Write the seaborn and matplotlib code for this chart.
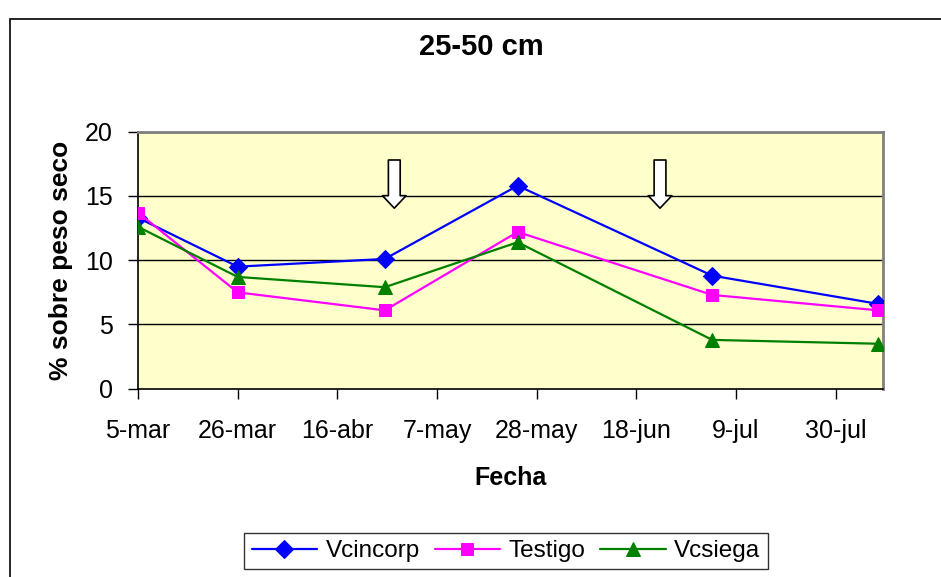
import matplotlib
matplotlib.use("Agg")
import matplotlib.pyplot as plt
from matplotlib.patches import Rectangle
import pandas as pd
import seaborn as sns

# Sampling dates and values
FECHAS = ["2005-03-05", "2005-03-26", "2005-04-26", "2005-05-24", "2005-07-04", "2005-08-08"]
VCINCORP = [13.3, 9.5, 10.1, 15.8, 8.8, 6.6]
TESTIGO = [13.7, 7.5, 6.1, 12.2, 7.3, 6.1]
VCSIEGA = [12.6, 8.7, 7.9, 11.4, 3.8, 3.5]

SERIES = ["Vcincorp", "Testigo", "Vcsiega"]
COLORS = ["#0000FF", "#FF00FF", "#008000"]
MARKERS = ["D", "s", "^"]
MSIZES = [9, 9, 10]

TICK_DATES = ["2005-03-05", "2005-03-26", "2005-04-16", "2005-05-07",
              "2005-05-28", "2005-06-18", "2005-07-09", "2005-07-30"]
TICK_LABELS = ["5-mar", "26-mar", "16-abr", "7-may", "28-may", "18-jun", "9-jul", "30-jul"]
Y_TICKS = [0, 5, 10, 15, 20]

# management events marked with hollow arrows
ARROW_DATES = ["2005-04-28", "2005-06-23"]
ARROW_TOP = 17.8
ARROW_TIP = 14.05

FONT = ["Liberation Sans", "DejaVu Sans"]

df = pd.DataFrame({"fecha": pd.to_datetime(FECHAS),
                   "Vcincorp": VCINCORP, "Testigo": TESTIGO, "Vcsiega": VCSIEGA})

sns.set_theme(style="white")
plt.rcParams["font.family"] = FONT
plt.rcParams.update({"text.color": "black", "axes.labelcolor": "black",
                     "xtick.color": "black", "ytick.color": "black"})

fig = plt.figure(figsize=(9.41, 5.77), dpi=100)
ax = fig.add_axes([0.1467, 0.3263, 0.7917, 0.4454])
ax.set_facecolor("#FFFFCC")

for y in Y_TICKS[1:]:
    ax.axhline(y, color="black", lw=1, zorder=1)

for name, color, marker, ms in zip(SERIES, COLORS, MARKERS, MSIZES):
    sns.lineplot(data=df, x="fecha", y=name, ax=ax, color=color, marker=marker,
                 markersize=ms, markeredgecolor=color, linewidth=1.6, label=name,
                 zorder=3)

for d in ARROW_DATES:
    ax.annotate("", xy=(pd.Timestamp(d), ARROW_TIP), xytext=(pd.Timestamp(d), ARROW_TOP),
                arrowprops=dict(arrowstyle="simple,head_width=1.7,head_length=0.9,tail_width=0.85",
                                fc="white", ec="black", lw=1.2, shrinkA=0, shrinkB=0,
                                mutation_scale=10), zorder=4)

ax.set_xlim(pd.Timestamp("2005-03-05"), pd.Timestamp("2005-08-09"))
ax.set_ylim(0, 20)
ax.set_xticks(pd.to_datetime(TICK_DATES))
ax.set_xticklabels(TICK_LABELS)
ax.set_yticks(Y_TICKS)
ax.tick_params(axis="both", direction="out", length=7, width=1, color="black",
               labelsize=18, labelcolor="black", bottom=True, left=True)
ax.tick_params(axis="x", pad=15)
ax.tick_params(axis="y", pad=11)

for side in ["left", "bottom"]:
    ax.spines[side].set_color("black")
    ax.spines[side].set_linewidth(1.2)
for side in ["top", "right"]:
    ax.spines[side].set_color("#808080")
    ax.spines[side].set_linewidth(2)

ax.set_xlabel("Fecha", fontsize=18, fontweight="bold", labelpad=16)
ax.set_ylabel("% sobre peso seco", fontsize=19, fontweight="bold", labelpad=9)

fig.text(0.511, 0.918, "25-50 cm", ha="center", va="center", fontsize=21, fontweight="bold")

leg = ax.legend(loc="center", ncol=3, frameon=True, fontsize=17.5, handlelength=2.7,
                columnspacing=0.6, handletextpad=0.35, borderpad=0.3, fancybox=False)
leg.get_frame().set_edgecolor("black")
leg.get_frame().set_linewidth(1)
leg.set_bbox_to_anchor((506 / 941, 1 - 551 / 577), transform=fig.transFigure)

# outer chart-area frame (cut off at right and bottom)
fig.patches.append(Rectangle((10 / 941, -0.1), 1.2, 1 - 19 / 577 + 0.1,
                             transform=fig.transFigure, fill=False, ec="black", lw=1.2))

fig.savefig("out.png", dpi=100)
